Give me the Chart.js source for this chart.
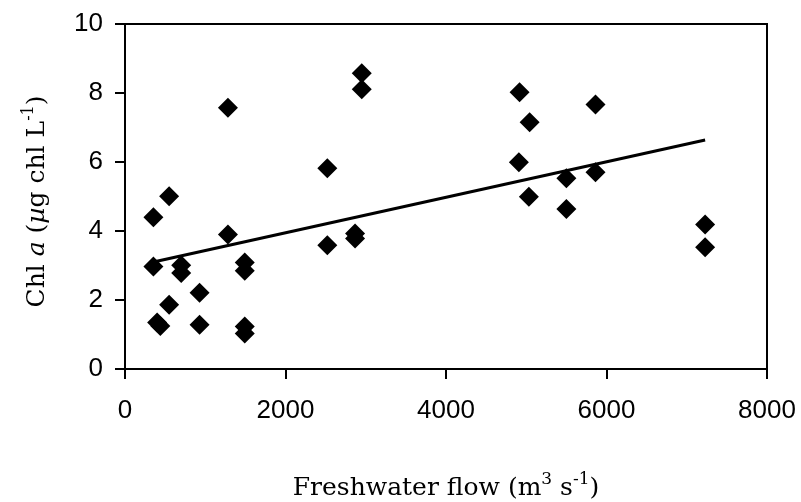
<!DOCTYPE html>
<html>
<head>
<meta charset="utf-8">
<script src="https://cdn.jsdelivr.net/npm/chart.js@4"></script>
<style>
  html, body { margin: 0; padding: 0; background: #fff; }
  #wrap { width: 801px; height: 502px; position: relative; }
</style>
</head>
<body>
<div id="wrap"><canvas id="chart" width="801" height="502"></canvas></div>
<script>
// Chl a vs freshwater flow
const flow = [354, 550, 1283, 2950, 2950, 2521, 1283, 2521, 2867, 2867, 354, 700, 700, 1492, 1492, 929,
  550, 400, 440, 929, 1492, 1492, 4917, 5042, 5863, 4908, 5500, 5863, 5033, 5500, 7229, 7229];
const chla = [4.40, 5.01, 7.57, 8.57, 8.11, 5.82, 3.90, 3.59, 3.93, 3.78, 2.97, 3.01, 2.78, 3.09, 2.85, 2.21,
  1.86, 1.35, 1.25, 1.28, 1.23, 1.03, 8.02, 7.15, 7.67, 5.99, 5.53, 5.70, 4.99, 4.64, 4.19, 3.53];

// fitted trend line end points (as drawn)
const trendFlow = [354, 7229];
const trendChla = [3.10, 6.64];

const xTicks = [0, 2000, 4000, 6000, 8000];
const yTicks = [0, 2, 4, 6, 8, 10];

const tickFont = { family: "'Liberation Sans', Arial, sans-serif", size: 26 };
const serif = "'DejaVu Serif', 'Liberation Serif', serif";

// draws a line of text made of parts with their own font / vertical shift
function drawRich(ctx, parts, cx, cy, rot) {
  let total = 0;
  parts.forEach(p => {
    ctx.font = p.font;
    p.w = ctx.measureText(p.t).width;
    total += p.w;
  });
  ctx.save();
  ctx.translate(cx, cy);
  ctx.rotate(rot);
  ctx.fillStyle = '#000';
  ctx.textBaseline = 'alphabetic';
  ctx.textAlign = 'left';
  let x = -total / 2;
  parts.forEach(p => {
    ctx.font = p.font;
    ctx.fillText(p.t, x, p.dy || 0);
    x += p.w;
  });
  ctx.restore();
}

const framePlugin = {
  id: 'frame',
  afterDraw(chart) {
    const { ctx, chartArea: a } = chart;
    ctx.save();
    ctx.strokeStyle = '#000';
    ctx.lineWidth = 2;
    ctx.strokeRect(a.left, a.top, a.right - a.left, a.bottom - a.top);
    ctx.restore();

    const cx = (a.left + a.right) / 2;
    const cy = (a.top + a.bottom) / 2;

    drawRich(ctx, [
      { t: 'Freshwater flow (m', font: `25px ${serif}` },
      { t: '3', font: `17px ${serif}`, dy: -11 },
      { t: ' s', font: `25px ${serif}` },
      { t: '-1', font: `17px ${serif}`, dy: -11 },
      { t: ')', font: `25px ${serif}` }
    ], cx, 495, 0);

    drawRich(ctx, [
      { t: 'Chl ', font: `25px ${serif}` },
      { t: 'a', font: `italic 25px ${serif}` },
      { t: ' (', font: `25px ${serif}` },
      { t: 'µ', font: `italic 25px ${serif}` },
      { t: 'g chl L', font: `25px ${serif}` },
      { t: '-1', font: `16px ${serif}`, dy: -11 },
      { t: ')', font: `25px ${serif}` }
    ], 44, cy + 5, -Math.PI / 2);
  }
};

new Chart(document.getElementById('chart').getContext('2d'), {
  type: 'scatter',
  data: {
    datasets: [
      {
        label: 'Chl a',
        data: flow.map((f, i) => ({ x: f, y: chla[i] })),
        pointStyle: 'rectRot',
        pointRadius: 10,
        pointBackgroundColor: '#000',
        pointBorderWidth: 0,
        showLine: false
      },
      {
        label: 'trend',
        data: trendFlow.map((f, i) => ({ x: f, y: trendChla[i] })),
        showLine: true,
        borderColor: '#000',
        borderWidth: 3,
        pointRadius: 0,
        fill: false
      }
    ]
  },
  options: {
    responsive: false,
    animation: false,
    layout: { padding: { top: 24, right: 34, left: 0, bottom: 0 } },
    plugins: { legend: { display: false }, tooltip: { enabled: false } },
    scales: {
      x: {
        type: 'linear',
        min: 0, max: 8000,
        afterBuildTicks: s => { s.ticks = xTicks.map(v => ({ value: v })); },
        afterFit: s => { s.height = 133; s.paddingLeft = 0; s.paddingRight = 0; },
        ticks: { font: tickFont, color: '#000', padding: 16, maxRotation: 0, callback: v => String(v) },
        grid: { drawOnChartArea: false, drawTicks: true, tickLength: 10, color: '#000', lineWidth: 2 },
        border: { display: true, color: '#000', width: 2 }
      },
      y: {
        type: 'linear',
        min: 0, max: 10,
        afterBuildTicks: s => { s.ticks = yTicks.map(v => ({ value: v })); },
        afterFit: s => { s.width = 125; s.paddingTop = 0; s.paddingBottom = 0; },
        ticks: { font: tickFont, color: '#000', padding: 12, callback: v => String(v) },
        grid: { drawOnChartArea: false, drawTicks: true, tickLength: 10, color: '#000', lineWidth: 2 },
        border: { display: true, color: '#000', width: 2 }
      }
    }
  },
  plugins: [framePlugin]
});
</script>
</body>
</html>
